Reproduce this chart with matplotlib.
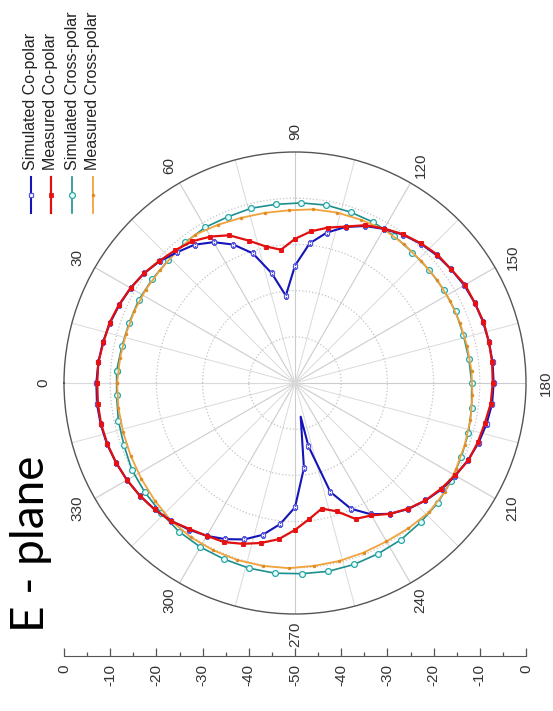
import numpy as np
import matplotlib
matplotlib.use('Agg')
import matplotlib.pyplot as plt
from matplotlib.lines import Line2D
from matplotlib.ticker import MultipleLocator, FuncFormatter

plt.rcParams['font.family'] = ['Liberation Sans', 'DejaVu Sans']

# E-plane radiation pattern, angle in degrees, level in dB
sim_co_ang = [0, 6, 12, 18, 24, 30, 36, 42, 48, 54, 60, 66, 72, 78, 84, 90,
              96, 102, 108, 114, 120, 126, 132, 138, 144, 150, 156, 162, 168,
              174, 180, 186, 192, 198, 204, 210, 216, 222, 228, 234, 240, 246,
              252, 258, 260.4, 264, 270, 276, 282, 288, 294, 300, 306, 312,
              318, 324, 330, 336, 342, 348, 354]
sim_co_db = [-7.0, -7.2, -7.5, -7.9, -8.4, -8.9, -9.6, -10.6, -11.9, -13.0,
             -14.8, -17.2, -20.5, -25.7, -31.0, -24.6, -19.6, -16.7, -14.5,
             -12.8, -11.5, -10.3, -9.4, -8.7, -8.2, -7.7, -7.4, -7.2, -7.1,
             -7.0, -7.0, -7.1, -7.6, -8.2, -9.0, -9.9, -10.8, -12.0, -13.3,
             -15.0, -17.2, -20.2, -25.2, -36.0, -42.6, -31.5, -23.1, -19.3,
             -16.4, -14.4, -13.0, -11.8, -10.8, -9.9, -9.1, -8.5, -8.0, -7.6,
             -7.2, -7.0, -6.9]
sim_co_tip = 260.4   # line vertex only, no marker

meas_co_ang = list(range(0, 360, 6))
meas_co_db = [-7.2, -7.2, -7.6, -7.8, -8.3, -8.9, -9.6, -10.5, -11.3, -12.1,
              -13.4, -15.0, -17.6, -19.8, -21.0, -18.8, -17.0, -15.6, -14.4,
              -12.6, -11.4, -10.2, -9.3, -8.5, -8.2, -7.5, -7.4, -7.1, -7.1,
              -7.1, -7.2, -7.4, -8.0, -8.4, -8.9, -10.0, -11.0, -12.0, -13.4,
              -15.0, -16.9, -17.8, -20.8, -22.2, -20.4, -18.2, -16.0, -14.6,
              -13.4, -12.3, -11.8, -11.0, -9.8, -9.1, -8.5, -8.0, -7.6, -7.3,
              -7.1, -7.1]

sim_x_ang = list(range(4, 360, 8))
sim_x_db = [-11.3, -11.7, -11.8, -11.7, -11.8, -11.8, -11.4, -11.1, -11.2,
            -11.0, -11.1, -11.0, -10.9, -11.1, -11.3, -11.6, -12.0, -12.0,
            -12.0, -11.95, -12.1, -12.0, -11.75, -11.4, -10.95, -10.6, -10.1,
            -9.65, -9.4, -9.05, -8.9, -8.7, -8.6, -8.7, -8.6, -8.7, -8.9,
            -9.0, -9.2, -9.6, -9.8, -10.0, -10.6, -10.9, -11.3]

meas_x_ang = list(range(0, 360, 8))
meas_x_db = [-11.5, -11.75, -11.9, -11.9, -11.9, -11.9, -11.7, -11.3, -11.9,
             -12.4, -12.6, -12.6, -12.2, -12.0, -11.9, -11.6, -11.8, -12.0,
             -12.0, -12.0, -12.0, -11.9, -11.7, -11.5, -11.2, -10.9, -10.5,
             -9.9, -9.7, -10.1, -10.4, -10.4, -10.3, -10.2, -9.9, -9.8, -9.7,
             -9.7, -9.7, -9.9, -10.4, -10.8, -11.1, -11.3, -11.4]

theta_labels = ['0', '30', '60', '90', '120', '150', '180', '210', '240',
                '270', '300', '330']
series_names = ['Simulated Co-polar', 'Measured Co-polar',
                'Simulated Cross-polar', 'Measured Cross-polar']


def closed(ang, db):
    '''append first point at +360 so the trace closes'''
    a = np.deg2rad(np.append(ang, ang[0] + 360))
    return a, np.append(db, db[0])


W, H = 553, 711
fig = plt.figure(figsize=(W / 100, H / 100), dpi=100)

cx, cy, R = 295, 383, 231
ax = fig.add_axes([(cx - R) / W, (H - cy - R) / H, 2 * R / W, 2 * R / H],
                  projection='polar')
ax.set_theta_zero_location('W')
ax.set_theta_direction(-1)
ax.set_ylim(-50, 0)

ax.set_thetagrids(np.arange(0, 360, 30), labels=theta_labels)
ax.xaxis.set_minor_locator(MultipleLocator(np.deg2rad(15)))
ax.set_yticks([-40, -30, -20, -10])
ax.set_yticklabels([])
ax.grid(True, which='major', axis='x', color='#cccccc', lw=0.8, ls='-')
ax.grid(True, which='minor', axis='x', color='#dadada', lw=0.7, ls='-')
ax.grid(True, axis='y', color='#c4c4c4', ls=':', lw=0.9)
ax.tick_params(axis='x', which='major', direction='in', length=10, width=1,
               color='#555555', labelsize=11, labelrotation=90, pad=7.5,
               labelcolor='#333333')
ax.tick_params(axis='x', which='minor', direction='in', length=5, width=1,
               color='#555555')
ax.spines['polar'].set_color('#555555')
ax.spines['polar'].set_linewidth(1.0)

# line styles, shared with the legend
styles = [dict(color='#1414b8', lw=1.5, marker='s', ms=3.4, mfc='white', mec='#5a5ae0', mew=0.9),
          dict(color='#e01010', lw=1.6, marker='s', ms=3.4, mfc='#e81010', mec='#e81010', mew=0.6),
          dict(color='#1c8f8f', lw=1.2, marker='o', ms=4.2, mfc='#eaffff', mec='#2aa5a5', mew=0.9),
          dict(color='#f2a23a', lw=1.3, marker='o', ms=2.0, mfc='#e08a22', mec='#e08a22', mew=0.5)]

# simulated cross-polar
t, r = closed(sim_x_ang, sim_x_db)
ax.plot(t, r, zorder=3, **styles[2])
# measured cross-polar
t, r = closed(meas_x_ang, meas_x_db)
ax.plot(t, r, zorder=4, **styles[3])
# simulated co-polar
t, r = closed(sim_co_ang, sim_co_db)
mk = [i for i, a in enumerate(sim_co_ang) if a != sim_co_tip]
ax.plot(t, r, markevery=mk, zorder=5, **styles[0])
# measured co-polar
t, r = closed(meas_co_ang, meas_co_db)
ax.plot(t, r, zorder=6, **styles[1])

# linear dB scale under the plot, 0 at the rim, -50 at the centre
ax2 = fig.add_axes([(cx - R) / W, (H - 656) / H, 2 * R / W, 0.001])
ax2.set_xlim(-50, 50)
ax2.set_ylim(0, 1)
for s in ['left', 'right', 'top']:
    ax2.spines[s].set_visible(False)
ax2.spines['bottom'].set_color('#555555')
ax2.set_yticks([])
ax2.patch.set_alpha(0)
ax2.xaxis.set_major_locator(MultipleLocator(10))
ax2.xaxis.set_minor_locator(MultipleLocator(5))
ax2.xaxis.set_major_formatter(FuncFormatter(lambda v, p: '%d' % (abs(v) - 50)))
ax2.tick_params(axis='x', which='major', direction='in', length=6, width=0.9,
                color='#555555', labelsize=11, labelrotation=90, pad=6,
                labelcolor='#333333')
ax2.tick_params(axis='x', which='minor', direction='in', length=3, width=0.9,
                color='#555555')

fig.text(31 / W, 1 - 544 / H, 'E - plane', rotation=90, fontsize=33,
         family=['Lato', 'DejaVu Sans'], ha='center', va='center')

# legend, written sideways
leg_x = [31, 51, 72, 93]
for name, st, lx in zip(series_names, styles, leg_x):
    x = lx / W
    fig.add_artist(Line2D([x, x], [1 - 177 / H, 1 - 213 / H],
                          transform=fig.transFigure, color=st['color'], lw=st['lw']))
    st_mk = {k: v for k, v in st.items() if k != 'lw'}
    fig.add_artist(Line2D([x], [1 - 195 / H], transform=fig.transFigure,
                          ls='none', **st_mk))
    fig.text(x, 1 - 170 / H, name, rotation=90, ha='center', va='bottom',
             fontsize=11.5, color='#222222')

fig.savefig('out.png', dpi=100)
